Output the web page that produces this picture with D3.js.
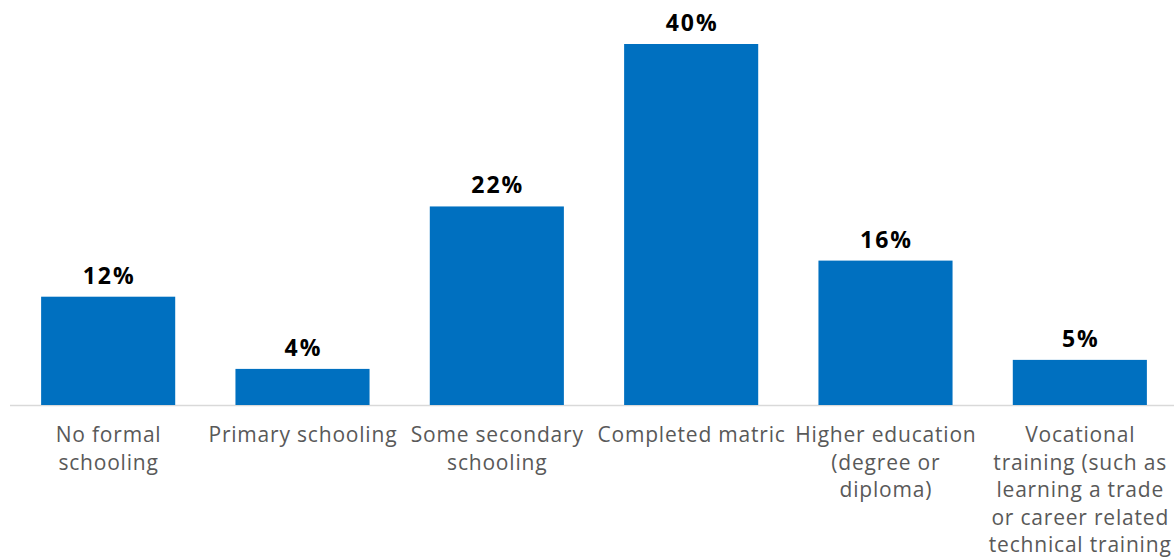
<!DOCTYPE html>
<html>
<head>
<meta charset="utf-8">
<script src="https://cdn.jsdelivr.net/npm/d3@7"></script>
<style>
  html, body { margin: 0; padding: 0; background: #fff; }
  svg { display: block; }
</style>
</head>
<body>
<svg id="chart" width="1174" height="558"></svg>
<script>
// Highest level of education
const categories = [
  "No formal\nschooling",
  "Primary schooling",
  "Some secondary\nschooling",
  "Completed matric",
  "Higher education\n(degree or\ndiploma)",
  "Vocational\ntraining (such as\nlearning a trade\nor career related\ntechnical training"
];
const values = [12, 4, 22, 40, 16, 5];

const width = 1174, height = 558;
const margin = { top: 44, right: -3, bottom: 153, left: 11 };
const barColor = "#0070C0";

const svg = d3.select("#chart");

const x = d3.scaleBand()
  .domain(d3.range(categories.length))
  .range([margin.left, width - margin.right])
  .paddingInner(0.31)
  .paddingOuter(0.155);

const y = d3.scaleLinear()
  .domain([0, 40])
  .range([height - margin.bottom, margin.top]);

// baseline
svg.append("line")
  .attr("x1", 10).attr("x2", width)
  .attr("y1", y(0) + 0.5).attr("y2", y(0) + 0.5)
  .attr("stroke", "#d9d9d9")
  .attr("stroke-width", 1.5);

// bars
svg.append("g")
  .selectAll("rect")
  .data(values)
  .join("rect")
  .attr("x", (d, i) => x(i))
  .attr("y", d => y(d))
  .attr("width", x.bandwidth())
  .attr("height", d => y(0) - y(d))
  .attr("fill", barColor);

// value labels
const valueSpacing = 2;
svg.append("g")
  .selectAll("text")
  .data(values)
  .join("text")
  .attr("x", (d, i) => x(i) + x.bandwidth() / 2 + valueSpacing / 2)
  .attr("y", d => y(d) - 13)
  .attr("text-anchor", "middle")
  .attr("font-family", "'Open Sans', sans-serif")
  .attr("font-weight", "bold")
  .attr("font-size", 23)
  .attr("letter-spacing", valueSpacing)
  .attr("fill", "#000")
  .text(d => d + "%");

// category labels
const catSpacing = 0.8;
const labels = svg.append("g")
  .selectAll("text")
  .data(categories)
  .join("text")
  .attr("x", (d, i) => x(i) + x.bandwidth() / 2 + catSpacing / 2)
  .attr("y", y(0) + 37)
  .attr("text-anchor", "middle")
  .attr("font-family", "'Open Sans', sans-serif")
  .attr("font-size", 21)
  .attr("letter-spacing", catSpacing)
  .attr("fill", "#595959");

labels.each(function(d) {
  const t = d3.select(this);
  d.split("\n").forEach((line, k) => {
    t.append("tspan")
      .attr("x", t.attr("x"))
      .attr("dy", k === 0 ? 0 : 27.5)
      .text(line);
  });
});
</script>
</body>
</html>
